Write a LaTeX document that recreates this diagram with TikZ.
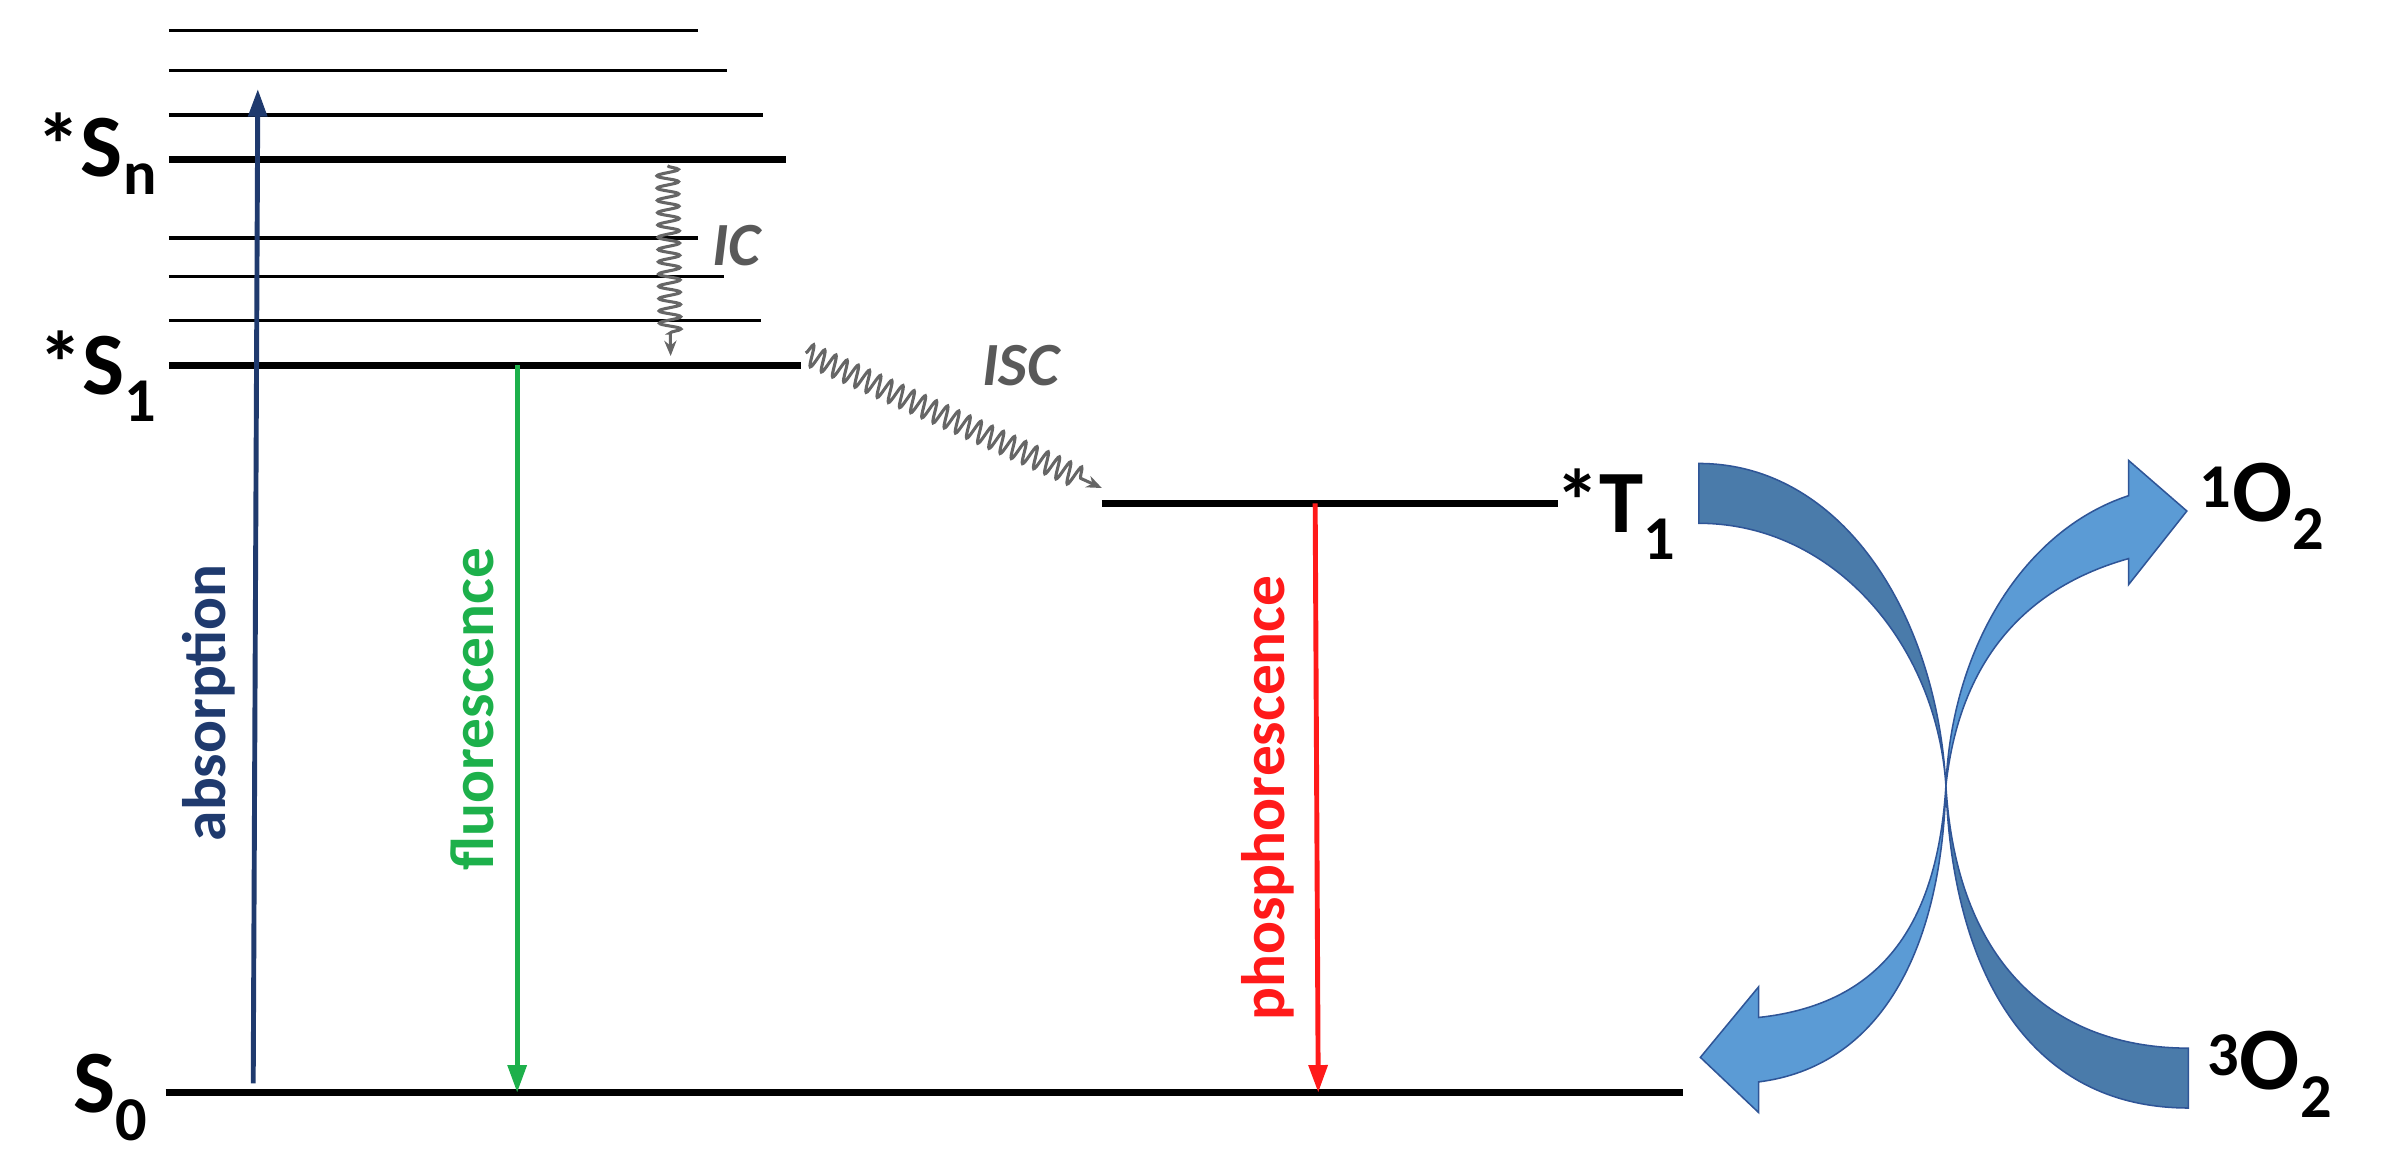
\documentclass[tikz,border=0pt]{standalone}
\usepackage{fontspec}
\setmainfont{Carlito}
\usetikzlibrary{decorations.pathmorphing,arrows.meta}
\definecolor{absc}{HTML}{1F3A6E}
\definecolor{fluc}{HTML}{1DB04B}
\definecolor{phoc}{HTML}{FF1A1A}
\definecolor{darkb}{HTML}{4A7BAA}
\definecolor{lightb}{HTML}{5B9BD5}
\definecolor{edgeb}{HTML}{2F5597}
\tikzset{
 lvl/.style={line width=2.2pt},
 main/.style={line width=4.5pt},
 big/.style={font=\fontsize{58}{64}\selectfont\bfseries},
 vlab/.style={rotate=90,font=\fontsize{40}{46}\selectfont\bfseries},
 wav/.style={gray!80!black,line width=2pt,-{Stealth[length=10pt,width=8pt]},
   decorate,decoration={snake,segment length=8pt,amplitude=7pt,post length=12pt}},
 trans/.style={line width=3.2pt,-{Triangle[length=18pt,width=12pt]}},
 band/.style={draw=edgeb,line width=1pt},
 ital/.style={font=\fontsize{40}{46}\selectfont\bfseries\itshape,gray!70!black}
}
\begin{document}
\begin{tikzpicture}[x=1pt,y=-1pt]
\useasboundingbox (0,0) rectangle (1560,760);
% levels
\draw[lvl] (110,20) -- (455,20);
\draw[lvl] (110,46) -- (474,46);
\draw[lvl] (110,75) -- (497,75);
\draw[main] (110,104) -- (512,104);
\draw[lvl] (110,155) -- (455,155);
\draw[lvl] (110,180) -- (472,180);
\draw[lvl] (110,209) -- (496,209);
\draw[main] (110,238) -- (522,238);
\draw[main] (108,712) -- (1097,712);
\draw[main] (718,328) -- (1015,328);
% labels
\node[big,anchor=east] (sn) at (106,100) {*S\textsubscript{n}};
\node[big,anchor=east] (s1) at (106,245) {*S\textsubscript{1}};
\node[big,anchor=east] (s0) at (100,715) {S\textsubscript{0}};
\node[big,anchor=west] (t1) at (1010,335) {*T\textsubscript{1}};
\node[big,anchor=west] (o1) at (1430,330) {\textsuperscript{1}O\textsubscript{2}};
\node[big,anchor=west] (o3) at (1435,700) {\textsuperscript{3}O\textsubscript{2}};
% coordinates
\coordinate (aS) at (165,706); \coordinate (aE) at (168,58);
\coordinate (fS) at (337,238); \coordinate (fE) at (337,712);
\coordinate (pS) at (857,328); \coordinate (pE) at (859,712);
\coordinate (icS) at (435,108); \coordinate (icE) at (437,232);
\coordinate (iscS) at (525,230); \coordinate (iscE) at (718,318);
% transitions
\draw[trans,absc] (aS) -- (aE);
\draw[trans,fluc] (fS) -- (fE);
\draw[trans,phoc] (pS) -- (pE);
\draw[wav] (icS) -- (icE);
\draw[wav] (iscS) -- (iscE);
\node[vlab,absc] (ab) at (136,458) {absorption};
\node[vlab,fluc] (fl) at (308,462) {fluorescence};
\node[vlab,phoc] (ph) at (826,520) {phosphorescence};
\node[ital] (ic) at (480,160) {IC};
\node[ital] (isc) at (665,238) {ISC};
% curved arrows
\coordinate (c) at (1268,512);
\fill[darkb,band] (1107,302) .. controls (1200,302) and (1262,400) .. (c)
  .. controls (1275,630) and (1340,683) .. (1426,683) -- (1426,722)
  .. controls (1320,722) and (1272,630) .. (c)
  .. controls (1262,420) and (1195,341) .. (1107,341) -- cycle;
\fill[lightb,band] (c) .. controls (1272,420) and (1320,345) .. (1387,323)
  -- (1387,300) -- (1425,333) -- (1387,381) -- (1387,364)
  .. controls (1330,380) and (1278,420) .. (c)
  .. controls (1262,610) and (1220,655) .. (1146,663)
  -- (1146,643) -- (1108,689) -- (1146,725) -- (1146,705)
  .. controls (1225,695) and (1265,620) .. (c) -- cycle;
\end{tikzpicture}
\end{document}
